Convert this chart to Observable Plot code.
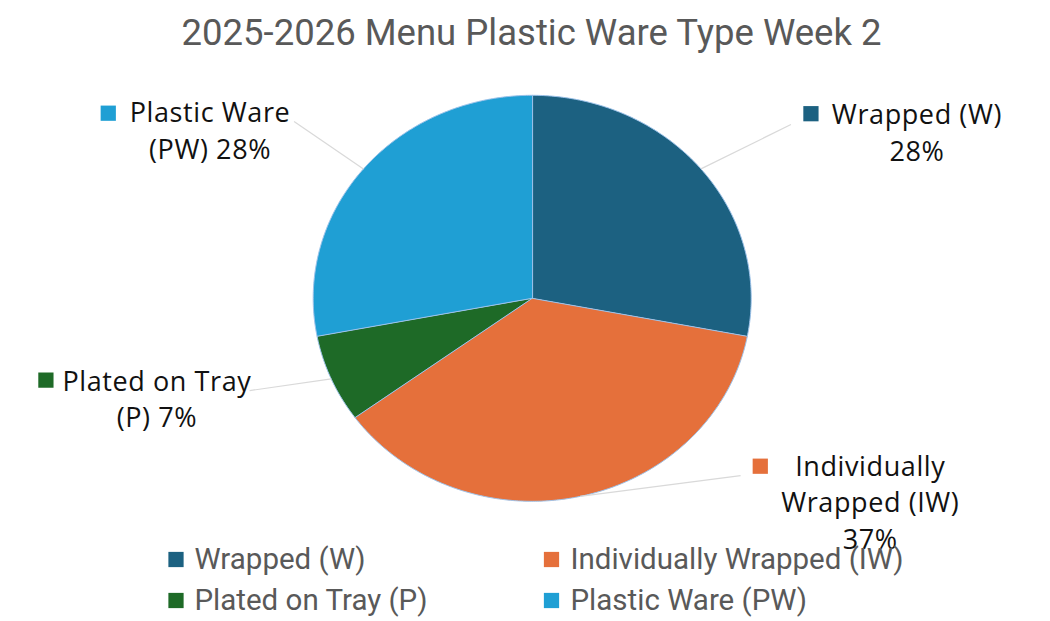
<!DOCTYPE html>
<html>
<head>
<meta charset="utf-8">
<script src="https://cdn.jsdelivr.net/npm/d3@7"></script>
<script src="https://cdn.jsdelivr.net/npm/@observablehq/plot@0.6"></script>
<style>
  html, body { margin: 0; padding: 0; background: #ffffff; }
  #chart svg { display: block; overflow: visible; }
  .lbl text { letter-spacing: 0.6px; }
</style>
</head>
<body>
<div id="chart"></div>
<script>
// ---------- data ----------
const chartTitle = "2025-2026 Menu Plastic Ware Type Week 2";
const categories = ["Wrapped (W)", "Individually Wrapped (IW)", "Plated on Tray (P)", "Plastic Ware (PW)"];
const shares = [28, 37, 7, 28];
const colors = ["#1c6181", "#e5703b", "#1e6a27", "#1f9fd4"];
const labelLines = [
  ["Wrapped (W)", "28%"],
  ["Individually", "Wrapped (IW)", "37%"],
  ["Plated on Tray", "(P) 7%"],
  ["Plastic Ware", "(PW) 28%"]
];

// ---------- layout (pixels) ----------
const W = 1050, H = 621;
const cx = 531.7, cy = 297.8, rx = 219, ry = 203;
// per label: leader end, marker centre, text centre x, first baseline (offsets from slice mid point on the rim)
const labelLayout = [
  {leader: [90, -44.4], marker: [110, -55.2], textX: 216, base: -44.7},
  {leader: [160.6, -20.7], marker: [180.3, -30.2], textX: 290.3, base: -20.7},
  {leader: [-81.6, 11.7], marker: [-285.3, 1.2], textX: -174.3, base: 11.7},
  {leader: [-69.4, -47.4], marker: [-255.2, -55.7], textX: -153.4, base: -46.7}
];
const lineStep = 36.7;
const legendCols = [175.5, 551], legendTextX = [194, 570];
const legendRows = [559, 600];

const toX = px => (px - cx) / rx;
const toY = py => (py - cy) / ry;

// ---------- derived geometry in unit (data) space ----------
const arcs = d3.pie().sort(null).value(d => d)(shares);
const slicePts = [];
arcs.forEach((a, i) => {
  const n = Math.max(4, Math.ceil((a.endAngle - a.startAngle) / (Math.PI / 360)));
  slicePts.push({cat: categories[i], x: 0, y: 0});
  for (let k = 0; k <= n; k++) {
    const t = a.startAngle + (a.endAngle - a.startAngle) * k / n;
    slicePts.push({cat: categories[i], x: Math.sin(t), y: -Math.cos(t)});
  }
});

const mids = arcs.map((a, i) => {
  const m = (a.startAngle + a.endAngle) / 2;
  return {cat: categories[i], x: Math.sin(m), y: -Math.cos(m), px: cx + rx * Math.sin(m), py: cy - ry * Math.cos(m)};
});

const leaders = mids.map((m, i) => ({
  cat: m.cat, x1: m.x, y1: m.y,
  x2: toX(m.px + labelLayout[i].leader[0]), y2: toY(m.py + labelLayout[i].leader[1])
}));
const markers = mids.map((m, i) => ({
  cat: m.cat, x: toX(m.px + labelLayout[i].marker[0]), y: toY(m.py + labelLayout[i].marker[1])
}));
const labelTexts = [];
mids.forEach((m, i) => {
  labelLines[i].forEach((t, j) => {
    labelTexts.push({text: t, x: toX(m.px + labelLayout[i].textX), y: toY(m.py + labelLayout[i].base + j * lineStep)});
  });
});
const legendItems = categories.map((c, i) => ({
  cat: c,
  mx: toX(legendCols[i % 2]), tx: toX(legendTextX[i % 2]),
  y: toY(legendRows[Math.floor(i / 2)])
}));

const chart = Plot.plot({
  width: W, height: H,
  margin: 0,
  style: {background: "#ffffff", overflow: "visible"},
  x: {domain: [-1, 1], range: [cx - rx, cx + rx], axis: null},
  y: {domain: [-1, 1], range: [cy - ry, cy + ry], axis: null},
  color: {domain: categories, range: colors},
  marks: [
    Plot.line(slicePts, {x: "x", y: "y", z: "cat", fill: "cat", stroke: "#9cc2ea", strokeWidth: 1, curve: "linear-closed"}),
    Plot.link(leaders, {x1: "x1", y1: "y1", x2: "x2", y2: "y2", stroke: "#d9d9d9", strokeWidth: 1.2}),
    Plot.dot(markers, {x: "x", y: "y", fill: "cat", symbol: "square", r: 8.6}),
    Plot.text(labelTexts, {x: "x", y: "y", text: "text", textAnchor: "middle", lineAnchor: "bottom",
      fontFamily: "Open Sans", fontSize: 27, fill: "#111111", className: "lbl"}),
    Plot.text([chartTitle], {x: toX(531), y: toY(44.3), text: d => d, textAnchor: "middle", lineAnchor: "bottom",
      fontFamily: "Roboto", fontSize: 36.5, fill: "#595959"}),
    Plot.dot(legendItems, {x: "mx", y: "y", fill: "cat", symbol: "square", r: 8.6}),
    Plot.text(legendItems, {x: "tx", y: "y", text: "cat", textAnchor: "start", lineAnchor: "middle",
      fontFamily: "Roboto", fontSize: 29.5, fill: "#595959"})
  ]
});
document.getElementById("chart").appendChild(chart);
</script>
</body>
</html>
